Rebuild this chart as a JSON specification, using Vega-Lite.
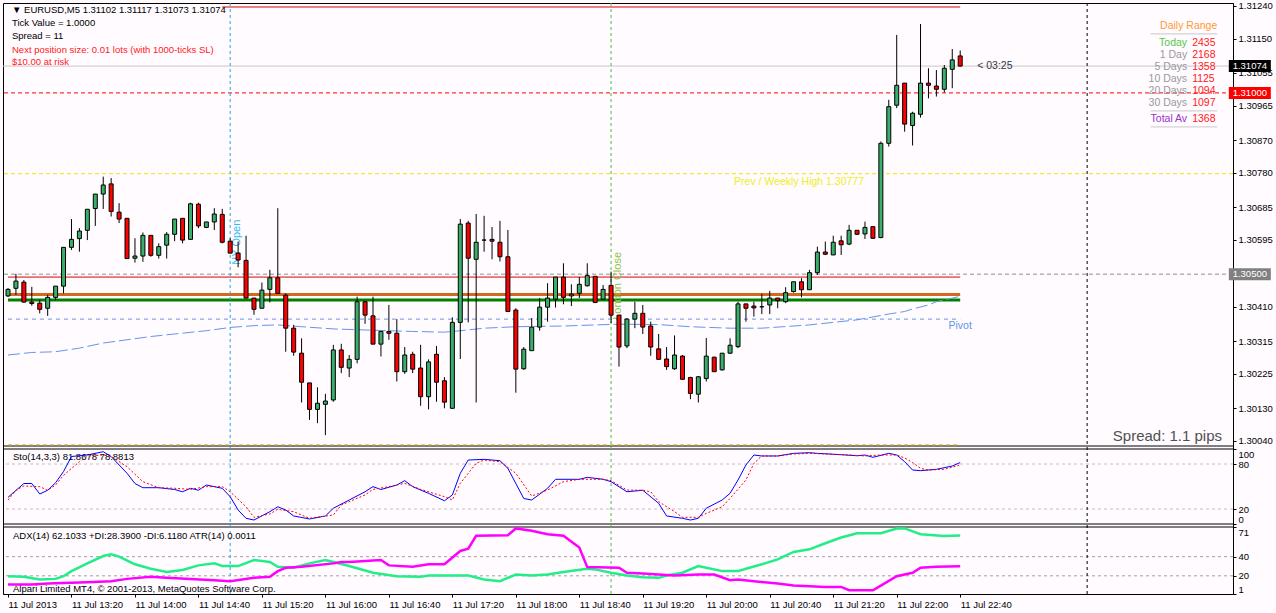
{
"$schema":"https://vega.github.io/schema/vega-lite/v6.json",
"background":"#FFFBFF",
"autosize":{"type":"none"},
"padding":{"left":3,"top":3,"right":43,"bottom":19},
"width":1230,"height":591,
"config":{"view":{"stroke":"#000000","strokeWidth":1},"axis":{"grid":false,"domainColor":"#000000","tickColor":"#000000","labelColor":"#000000","labelFont":"Liberation Sans","labelFontSize":9.5,"tickSize":3,"labelPadding":2},"text":{"font":"Liberation Sans"}},
"resolve":{"scale":{"y":"independent"},"axis":{"y":"independent"}},
"datasets":{
"c":[
{"t":"2013-07-11T12:40Z","o":1.3044,"h":1.30462,"l":1.30437,"c":1.30458},
{"t":"2013-07-11T12:45Z","o":1.30461,"h":1.30501,"l":1.30443,"c":1.30481},
{"t":"2013-07-11T12:50Z","o":1.30478,"h":1.30484,"l":1.30422,"c":1.30423},
{"t":"2013-07-11T12:55Z","o":1.30423,"h":1.30465,"l":1.30413,"c":1.30419},
{"t":"2013-07-11T13:00Z","o":1.3042,"h":1.30429,"l":1.30392,"c":1.30403},
{"t":"2013-07-11T13:05Z","o":1.30406,"h":1.30443,"l":1.30385,"c":1.30436},
{"t":"2013-07-11T13:10Z","o":1.30436,"h":1.30467,"l":1.30429,"c":1.30467},
{"t":"2013-07-11T13:15Z","o":1.30467,"h":1.30575,"l":1.30447,"c":1.30574},
{"t":"2013-07-11T13:20Z","o":1.30574,"h":1.30652,"l":1.30567,"c":1.30596},
{"t":"2013-07-11T13:25Z","o":1.30598,"h":1.30627,"l":1.30562,"c":1.30619},
{"t":"2013-07-11T13:30Z","o":1.30621,"h":1.30679,"l":1.30594,"c":1.30679},
{"t":"2013-07-11T13:35Z","o":1.30681,"h":1.30721,"l":1.30633,"c":1.30721},
{"t":"2013-07-11T13:40Z","o":1.30721,"h":1.30769,"l":1.3068,"c":1.30746},
{"t":"2013-07-11T13:45Z","o":1.30749,"h":1.30765,"l":1.30659,"c":1.30673},
{"t":"2013-07-11T13:50Z","o":1.30671,"h":1.30696,"l":1.30641,"c":1.30652},
{"t":"2013-07-11T13:55Z","o":1.30654,"h":1.30655,"l":1.30542,"c":1.30543},
{"t":"2013-07-11T14:00Z","o":1.30544,"h":1.30599,"l":1.30532,"c":1.3055},
{"t":"2013-07-11T14:05Z","o":1.3055,"h":1.30615,"l":1.30534,"c":1.30607},
{"t":"2013-07-11T14:10Z","o":1.30607,"h":1.30608,"l":1.30548,"c":1.30552},
{"t":"2013-07-11T14:15Z","o":1.30552,"h":1.30585,"l":1.30543,"c":1.30576},
{"t":"2013-07-11T14:20Z","o":1.3058,"h":1.30616,"l":1.30543,"c":1.3061},
{"t":"2013-07-11T14:25Z","o":1.3061,"h":1.30652,"l":1.30591,"c":1.30652},
{"t":"2013-07-11T14:30Z","o":1.30654,"h":1.30655,"l":1.30585,"c":1.30594},
{"t":"2013-07-11T14:35Z","o":1.30596,"h":1.30697,"l":1.30595,"c":1.30694},
{"t":"2013-07-11T14:40Z","o":1.30693,"h":1.30697,"l":1.30627,"c":1.30633},
{"t":"2013-07-11T14:45Z","o":1.30629,"h":1.30644,"l":1.30627,"c":1.30644},
{"t":"2013-07-11T14:50Z","o":1.30644,"h":1.30682,"l":1.30622,"c":1.30666},
{"t":"2013-07-11T14:55Z","o":1.30665,"h":1.3068,"l":1.30585,"c":1.30588},
{"t":"2013-07-11T15:00Z","o":1.30591,"h":1.30599,"l":1.30558,"c":1.30558},
{"t":"2013-07-11T15:05Z","o":1.30558,"h":1.3059,"l":1.30519,"c":1.30539},
{"t":"2013-07-11T15:10Z","o":1.30538,"h":1.30606,"l":1.30434,"c":1.30434},
{"t":"2013-07-11T15:15Z","o":1.30434,"h":1.30434,"l":1.30388,"c":1.30403},
{"t":"2013-07-11T15:20Z","o":1.30406,"h":1.30477,"l":1.30406,"c":1.30456},
{"t":"2013-07-11T15:25Z","o":1.30458,"h":1.30512,"l":1.30422,"c":1.3049},
{"t":"2013-07-11T15:30Z","o":1.3049,"h":1.30682,"l":1.30447,"c":1.30447},
{"t":"2013-07-11T15:35Z","o":1.30442,"h":1.30447,"l":1.30286,"c":1.30351},
{"t":"2013-07-11T15:40Z","o":1.30351,"h":1.3036,"l":1.30275,"c":1.30285},
{"t":"2013-07-11T15:45Z","o":1.30282,"h":1.30323,"l":1.30146,"c":1.30202},
{"t":"2013-07-11T15:50Z","o":1.302,"h":1.302,"l":1.30098,"c":1.30127},
{"t":"2013-07-11T15:55Z","o":1.30127,"h":1.30188,"l":1.30089,"c":1.30144},
{"t":"2013-07-11T16:00Z","o":1.30141,"h":1.3017,"l":1.30056,"c":1.3015},
{"t":"2013-07-11T16:05Z","o":1.30153,"h":1.30305,"l":1.30148,"c":1.30291},
{"t":"2013-07-11T16:10Z","o":1.30291,"h":1.30308,"l":1.30227,"c":1.30243},
{"t":"2013-07-11T16:15Z","o":1.30241,"h":1.30277,"l":1.30216,"c":1.30265},
{"t":"2013-07-11T16:20Z","o":1.30265,"h":1.30438,"l":1.30254,"c":1.30424},
{"t":"2013-07-11T16:25Z","o":1.30424,"h":1.30425,"l":1.30363,"c":1.30387},
{"t":"2013-07-11T16:30Z","o":1.30385,"h":1.30438,"l":1.30307,"c":1.30307},
{"t":"2013-07-11T16:35Z","o":1.30307,"h":1.30342,"l":1.30273,"c":1.30342},
{"t":"2013-07-11T16:40Z","o":1.30342,"h":1.30415,"l":1.30319,"c":1.30337},
{"t":"2013-07-11T16:45Z","o":1.30337,"h":1.30376,"l":1.30204,"c":1.30231},
{"t":"2013-07-11T16:50Z","o":1.30231,"h":1.30299,"l":1.30225,"c":1.30277},
{"t":"2013-07-11T16:55Z","o":1.30279,"h":1.30286,"l":1.30227,"c":1.30238},
{"t":"2013-07-11T17:00Z","o":1.30241,"h":1.30305,"l":1.30137,"c":1.30162},
{"t":"2013-07-11T17:05Z","o":1.30162,"h":1.30265,"l":1.30127,"c":1.30258},
{"t":"2013-07-11T17:10Z","o":1.30279,"h":1.30302,"l":1.30148,"c":1.30202},
{"t":"2013-07-11T17:15Z","o":1.30206,"h":1.30216,"l":1.3013,"c":1.30147},
{"t":"2013-07-11T17:20Z","o":1.3013,"h":1.30381,"l":1.30128,"c":1.30367},
{"t":"2013-07-11T17:25Z","o":1.30367,"h":1.30652,"l":1.30266,"c":1.30638},
{"t":"2013-07-11T17:30Z","o":1.30641,"h":1.30647,"l":1.30367,"c":1.30544},
{"t":"2013-07-11T17:35Z","o":1.30541,"h":1.30666,"l":1.30146,"c":1.30588},
{"t":"2013-07-11T17:40Z","o":1.30594,"h":1.30661,"l":1.30562,"c":1.30594},
{"t":"2013-07-11T17:45Z","o":1.30596,"h":1.3063,"l":1.30541,"c":1.30591},
{"t":"2013-07-11T17:50Z","o":1.30588,"h":1.30647,"l":1.30535,"c":1.30548},
{"t":"2013-07-11T17:55Z","o":1.30548,"h":1.30622,"l":1.30397,"c":1.30397},
{"t":"2013-07-11T18:00Z","o":1.30401,"h":1.30406,"l":1.30173,"c":1.30238},
{"t":"2013-07-11T18:05Z","o":1.30239,"h":1.30299,"l":1.30236,"c":1.30293},
{"t":"2013-07-11T18:10Z","o":1.30289,"h":1.30379,"l":1.30289,"c":1.30354},
{"t":"2013-07-11T18:15Z","o":1.30354,"h":1.30434,"l":1.30344,"c":1.30409},
{"t":"2013-07-11T18:20Z","o":1.30409,"h":1.30475,"l":1.30369,"c":1.30434},
{"t":"2013-07-11T18:25Z","o":1.30431,"h":1.30492,"l":1.30408,"c":1.30492},
{"t":"2013-07-11T18:30Z","o":1.30492,"h":1.3053,"l":1.30417,"c":1.30436},
{"t":"2013-07-11T18:35Z","o":1.3044,"h":1.30472,"l":1.30412,"c":1.30445},
{"t":"2013-07-11T18:40Z","o":1.30447,"h":1.30492,"l":1.30434,"c":1.30472},
{"t":"2013-07-11T18:45Z","o":1.30468,"h":1.3053,"l":1.30466,"c":1.30496},
{"t":"2013-07-11T18:50Z","o":1.30494,"h":1.30495,"l":1.3042,"c":1.30422},
{"t":"2013-07-11T18:55Z","o":1.30431,"h":1.3047,"l":1.30431,"c":1.30458},
{"t":"2013-07-11T19:00Z","o":1.30469,"h":1.30507,"l":1.30365,"c":1.30387},
{"t":"2013-07-11T19:05Z","o":1.30387,"h":1.30387,"l":1.30245,"c":1.30299},
{"t":"2013-07-11T19:10Z","o":1.30302,"h":1.30379,"l":1.30296,"c":1.30376},
{"t":"2013-07-11T19:15Z","o":1.30376,"h":1.30424,"l":1.30351,"c":1.30392},
{"t":"2013-07-11T19:20Z","o":1.30392,"h":1.30415,"l":1.30335,"c":1.30354},
{"t":"2013-07-11T19:25Z","o":1.30357,"h":1.30369,"l":1.30275,"c":1.30299},
{"t":"2013-07-11T19:30Z","o":1.30294,"h":1.30335,"l":1.30265,"c":1.30265},
{"t":"2013-07-11T19:35Z","o":1.30266,"h":1.30299,"l":1.30236,"c":1.30245},
{"t":"2013-07-11T19:40Z","o":1.30239,"h":1.30331,"l":1.30236,"c":1.30277},
{"t":"2013-07-11T19:45Z","o":1.30274,"h":1.30277,"l":1.30208,"c":1.3021},
{"t":"2013-07-11T19:50Z","o":1.30215,"h":1.30217,"l":1.30155,"c":1.30171},
{"t":"2013-07-11T19:55Z","o":1.30169,"h":1.30219,"l":1.30146,"c":1.30217},
{"t":"2013-07-11T20:00Z","o":1.30212,"h":1.30324,"l":1.30204,"c":1.30274},
{"t":"2013-07-11T20:05Z","o":1.30271,"h":1.30272,"l":1.3023,"c":1.30231},
{"t":"2013-07-11T20:10Z","o":1.30236,"h":1.30282,"l":1.30234,"c":1.30282},
{"t":"2013-07-11T20:15Z","o":1.30282,"h":1.30323,"l":1.3028,"c":1.30304},
{"t":"2013-07-11T20:20Z","o":1.303,"h":1.30424,"l":1.30296,"c":1.30418},
{"t":"2013-07-11T20:25Z","o":1.30418,"h":1.30418,"l":1.30369,"c":1.30406},
{"t":"2013-07-11T20:30Z","o":1.30412,"h":1.30424,"l":1.30383,"c":1.30407},
{"t":"2013-07-11T20:35Z","o":1.3041,"h":1.30446,"l":1.3039,"c":1.3041},
{"t":"2013-07-11T20:40Z","o":1.30415,"h":1.30454,"l":1.3039,"c":1.30434},
{"t":"2013-07-11T20:45Z","o":1.30434,"h":1.30434,"l":1.30406,"c":1.30427},
{"t":"2013-07-11T20:50Z","o":1.30424,"h":1.30464,"l":1.3042,"c":1.30449},
{"t":"2013-07-11T20:55Z","o":1.30452,"h":1.30479,"l":1.30449,"c":1.30479},
{"t":"2013-07-11T21:00Z","o":1.30479,"h":1.30489,"l":1.30436,"c":1.30457},
{"t":"2013-07-11T21:05Z","o":1.30457,"h":1.30512,"l":1.30457,"c":1.30504},
{"t":"2013-07-11T21:10Z","o":1.30504,"h":1.30576,"l":1.30498,"c":1.30561},
{"t":"2013-07-11T21:15Z","o":1.30561,"h":1.3059,"l":1.30553,"c":1.30555},
{"t":"2013-07-11T21:20Z","o":1.30553,"h":1.30606,"l":1.30553,"c":1.30588},
{"t":"2013-07-11T21:25Z","o":1.30592,"h":1.30606,"l":1.30553,"c":1.30581},
{"t":"2013-07-11T21:30Z","o":1.30583,"h":1.30636,"l":1.3058,"c":1.30621},
{"t":"2013-07-11T21:35Z","o":1.30621,"h":1.30621,"l":1.30608,"c":1.3061},
{"t":"2013-07-11T21:40Z","o":1.30611,"h":1.30645,"l":1.30597,"c":1.30629},
{"t":"2013-07-11T21:45Z","o":1.30631,"h":1.30631,"l":1.30597,"c":1.30599},
{"t":"2013-07-11T21:50Z","o":1.30601,"h":1.30866,"l":1.30599,"c":1.30861},
{"t":"2013-07-11T21:55Z","o":1.30861,"h":1.30981,"l":1.30852,"c":1.30962},
{"t":"2013-07-11T22:00Z","o":1.30966,"h":1.3116,"l":1.30958,"c":1.31021},
{"t":"2013-07-11T22:05Z","o":1.31027,"h":1.31027,"l":1.30893,"c":1.30914},
{"t":"2013-07-11T22:10Z","o":1.3091,"h":1.30948,"l":1.30855,"c":1.30944},
{"t":"2013-07-11T22:15Z","o":1.30941,"h":1.3119,"l":1.30932,"c":1.31027},
{"t":"2013-07-11T22:20Z","o":1.31027,"h":1.31068,"l":1.30985,"c":1.31021},
{"t":"2013-07-11T22:25Z","o":1.31019,"h":1.31063,"l":1.3099,"c":1.3101},
{"t":"2013-07-11T22:30Z","o":1.3101,"h":1.31077,"l":1.31001,"c":1.31068},
{"t":"2013-07-11T22:35Z","o":1.31065,"h":1.31121,"l":1.31013,"c":1.31091},
{"t":"2013-07-11T22:40Z","o":1.31102,"h":1.31117,"l":1.31073,"c":1.31074}
],
"ma":[
{"t":"2013-07-11T12:40Z","p":1.30277},{"t":"2013-07-11T12:55Z","p":1.30284},{"t":"2013-07-11T13:10Z","p":1.30286},{"t":"2013-07-11T13:25Z","p":1.30296},{"t":"2013-07-11T13:40Z","p":1.3031},{"t":"2013-07-11T13:55Z","p":1.30319},{"t":"2013-07-11T14:10Z","p":1.30328},{"t":"2013-07-11T14:25Z","p":1.30335},{"t":"2013-07-11T14:45Z","p":1.30344},{"t":"2013-07-11T15:00Z","p":1.30353},{"t":"2013-07-11T15:15Z","p":1.30358},{"t":"2013-07-11T15:30Z","p":1.3036},{"t":"2013-07-11T15:45Z","p":1.30355},{"t":"2013-07-11T16:05Z","p":1.30349},{"t":"2013-07-11T16:25Z","p":1.30346},{"t":"2013-07-11T16:55Z","p":1.30342},{"t":"2013-07-11T17:15Z","p":1.3034},{"t":"2013-07-11T17:25Z","p":1.30344},{"t":"2013-07-11T17:40Z","p":1.30351},{"t":"2013-07-11T18:00Z","p":1.30355},{"t":"2013-07-11T18:30Z","p":1.30357},{"t":"2013-07-11T18:50Z","p":1.3036},{"t":"2013-07-11T19:05Z","p":1.30362},{"t":"2013-07-11T19:30Z","p":1.30361},{"t":"2013-07-11T19:50Z","p":1.30355},{"t":"2013-07-11T20:15Z","p":1.30351},{"t":"2013-07-11T20:35Z","p":1.30351},{"t":"2013-07-11T21:05Z","p":1.3036},{"t":"2013-07-11T21:35Z","p":1.30374},{"t":"2013-07-11T21:55Z","p":1.3039},{"t":"2013-07-11T22:05Z","p":1.30397},{"t":"2013-07-11T22:10Z","p":1.30404},{"t":"2013-07-11T22:20Z","p":1.30415},{"t":"2013-07-11T22:25Z","p":1.30424},{"t":"2013-07-11T22:35Z","p":1.30434},{"t":"2013-07-11T22:40Z","p":1.30439}
],
"k":[
{"t":"2013-07-11T12:40Z","v":35.6},{"t":"2013-07-11T12:50Z","v":54},{"t":"2013-07-11T12:55Z","v":54},{"t":"2013-07-11T13:00Z","v":40},{"t":"2013-07-11T13:05Z","v":45},{"t":"2013-07-11T13:10Z","v":55},{"t":"2013-07-11T13:15Z","v":70},{"t":"2013-07-11T13:20Z","v":90},{"t":"2013-07-11T13:30Z","v":92},{"t":"2013-07-11T13:40Z","v":96.4},{"t":"2013-07-11T13:45Z","v":90},{"t":"2013-07-11T13:55Z","v":67.6},{"t":"2013-07-11T14:00Z","v":54},{"t":"2013-07-11T14:05Z","v":48.4},{"t":"2013-07-11T14:15Z","v":48.4},{"t":"2013-07-11T14:25Z","v":46},{"t":"2013-07-11T14:30Z","v":43},{"t":"2013-07-11T14:35Z","v":47.6},{"t":"2013-07-11T14:40Z","v":45},{"t":"2013-07-11T14:45Z","v":52},{"t":"2013-07-11T14:55Z","v":47.6},{"t":"2013-07-11T15:00Z","v":36.4},{"t":"2013-07-11T15:05Z","v":18.7},{"t":"2013-07-11T15:10Z","v":7.6},{"t":"2013-07-11T15:15Z","v":5.3},{"t":"2013-07-11T15:25Z","v":16.4},{"t":"2013-07-11T15:30Z","v":23},{"t":"2013-07-11T15:35Z","v":18.7},{"t":"2013-07-11T15:40Z","v":10.7},{"t":"2013-07-11T15:50Z","v":6.7},{"t":"2013-07-11T16:00Z","v":10.7},{"t":"2013-07-11T16:05Z","v":21},{"t":"2013-07-11T16:15Z","v":32},{"t":"2013-07-11T16:25Z","v":43},{"t":"2013-07-11T16:30Z","v":49.8},{"t":"2013-07-11T16:35Z","v":46},{"t":"2013-07-11T16:45Z","v":52},{"t":"2013-07-11T16:50Z","v":57.8},{"t":"2013-07-11T16:55Z","v":49.8},{"t":"2013-07-11T17:05Z","v":40.9},{"t":"2013-07-11T17:15Z","v":31},{"t":"2013-07-11T17:20Z","v":38.7},{"t":"2013-07-11T17:25Z","v":67.6},{"t":"2013-07-11T17:30Z","v":85.3},{"t":"2013-07-11T17:40Z","v":86.2},{"t":"2013-07-11T17:50Z","v":84.4},{"t":"2013-07-11T17:55Z","v":74.2},{"t":"2013-07-11T18:00Z","v":54},{"t":"2013-07-11T18:05Z","v":34},{"t":"2013-07-11T18:10Z","v":32},{"t":"2013-07-11T18:20Z","v":47.6},{"t":"2013-07-11T18:25Z","v":59.6},{"t":"2013-07-11T18:40Z","v":59.6},{"t":"2013-07-11T18:45Z","v":62.2},{"t":"2013-07-11T18:55Z","v":59.6},{"t":"2013-07-11T19:00Z","v":56.4},{"t":"2013-07-11T19:10Z","v":43},{"t":"2013-07-11T19:20Z","v":45},{"t":"2013-07-11T19:30Z","v":27.6},{"t":"2013-07-11T19:35Z","v":10.7},{"t":"2013-07-11T19:45Z","v":7.6},{"t":"2013-07-11T19:50Z","v":5.3},{"t":"2013-07-11T19:55Z","v":7.6},{"t":"2013-07-11T20:00Z","v":21},{"t":"2013-07-11T20:10Z","v":32},{"t":"2013-07-11T20:15Z","v":40.9},{"t":"2013-07-11T20:20Z","v":58.7},{"t":"2013-07-11T20:25Z","v":78.7},{"t":"2013-07-11T20:30Z","v":92},{"t":"2013-07-11T20:35Z","v":90.7},{"t":"2013-07-11T20:45Z","v":90.7},{"t":"2013-07-11T20:55Z","v":94.2},{"t":"2013-07-11T21:05Z","v":95.1},{"t":"2013-07-11T21:10Z","v":94.2},{"t":"2013-07-11T21:25Z","v":92.4},{"t":"2013-07-11T21:35Z","v":91},{"t":"2013-07-11T21:40Z","v":92},{"t":"2013-07-11T21:45Z","v":88.9},{"t":"2013-07-11T21:55Z","v":94.2},{"t":"2013-07-11T22:00Z","v":92},{"t":"2013-07-11T22:05Z","v":83.1},{"t":"2013-07-11T22:10Z","v":72},{"t":"2013-07-11T22:15Z","v":71.1},{"t":"2013-07-11T22:25Z","v":72.9},{"t":"2013-07-11T22:35Z","v":77.3},{"t":"2013-07-11T22:40Z","v":81.9}
],
"d":[
{"t":"2013-07-11T12:40Z","v":32},{"t":"2013-07-11T12:45Z","v":45},{"t":"2013-07-11T12:50Z","v":50.7},{"t":"2013-07-11T13:00Z","v":49.8},{"t":"2013-07-11T13:05Z","v":45},{"t":"2013-07-11T13:10Z","v":52},{"t":"2013-07-11T13:15Z","v":65},{"t":"2013-07-11T13:25Z","v":83},{"t":"2013-07-11T13:30Z","v":90.7},{"t":"2013-07-11T13:40Z","v":92},{"t":"2013-07-11T13:45Z","v":90},{"t":"2013-07-11T13:55Z","v":76.4},{"t":"2013-07-11T14:05Z","v":56.4},{"t":"2013-07-11T14:15Z","v":48.4},{"t":"2013-07-11T14:25Z","v":47.6},{"t":"2013-07-11T14:35Z","v":46.2},{"t":"2013-07-11T14:45Z","v":49.8},{"t":"2013-07-11T14:55Z","v":49.8},{"t":"2013-07-11T15:00Z","v":43},{"t":"2013-07-11T15:10Z","v":23},{"t":"2013-07-11T15:15Z","v":8.9},{"t":"2013-07-11T15:25Z","v":13.3},{"t":"2013-07-11T15:30Z","v":19.6},{"t":"2013-07-11T15:40Z","v":16.4},{"t":"2013-07-11T15:50Z","v":7.6},{"t":"2013-07-11T16:05Z","v":12},{"t":"2013-07-11T16:10Z","v":25.3},{"t":"2013-07-11T16:25Z","v":38.7},{"t":"2013-07-11T16:30Z","v":46.2},{"t":"2013-07-11T16:40Z","v":49.8},{"t":"2013-07-11T16:50Z","v":54.2},{"t":"2013-07-11T17:00Z","v":46.2},{"t":"2013-07-11T17:15Z","v":36.4},{"t":"2013-07-11T17:20Z","v":32},{"t":"2013-07-11T17:25Z","v":54.2},{"t":"2013-07-11T17:35Z","v":80.9},{"t":"2013-07-11T17:40Z","v":85.3},{"t":"2013-07-11T17:50Z","v":83},{"t":"2013-07-11T18:00Z","v":67.6},{"t":"2013-07-11T18:10Z","v":37.3},{"t":"2013-07-11T18:20Z","v":45.3},{"t":"2013-07-11T18:30Z","v":56.4},{"t":"2013-07-11T18:40Z","v":59.6},{"t":"2013-07-11T18:55Z","v":59.6},{"t":"2013-07-11T19:00Z","v":57.8},{"t":"2013-07-11T19:10Z","v":45.3},{"t":"2013-07-11T19:20Z","v":45},{"t":"2013-07-11T19:25Z","v":43},{"t":"2013-07-11T19:30Z","v":29.8},{"t":"2013-07-11T19:40Z","v":16.4},{"t":"2013-07-11T19:45Z","v":8.9},{"t":"2013-07-11T19:55Z","v":8.9},{"t":"2013-07-11T20:00Z","v":14.2},{"t":"2013-07-11T20:10Z","v":23},{"t":"2013-07-11T20:15Z","v":34.2},{"t":"2013-07-11T20:25Z","v":58.7},{"t":"2013-07-11T20:30Z","v":80.9},{"t":"2013-07-11T20:35Z","v":90.7},{"t":"2013-07-11T20:45Z","v":90.7},{"t":"2013-07-11T20:55Z","v":93.3},{"t":"2013-07-11T21:05Z","v":94.2},{"t":"2013-07-11T21:15Z","v":93.3},{"t":"2013-07-11T21:30Z","v":92},{"t":"2013-07-11T21:40Z","v":90.7},{"t":"2013-07-11T21:50Z","v":92},{"t":"2013-07-11T22:00Z","v":92},{"t":"2013-07-11T22:05Z","v":88},{"t":"2013-07-11T22:10Z","v":82},{"t":"2013-07-11T22:15Z","v":74.2},{"t":"2013-07-11T22:20Z","v":72},{"t":"2013-07-11T22:30Z","v":72.9},{"t":"2013-07-11T22:35Z","v":75.6},{"t":"2013-07-11T22:40Z","v":78.9}
],
"adx":[
{"t":"2013-07-11T12:40Z","v":19.6},{"t":"2013-07-11T12:50Z","v":18.9},{"t":"2013-07-11T13:00Z","v":16.1},{"t":"2013-07-11T13:10Z","v":16.8},{"t":"2013-07-11T13:15Z","v":19.6},{"t":"2013-07-11T13:20Z","v":24.9},{"t":"2013-07-11T13:30Z","v":33},{"t":"2013-07-11T13:40Z","v":40.7},{"t":"2013-07-11T13:45Z","v":42.5},{"t":"2013-07-11T13:50Z","v":40},{"t":"2013-07-11T14:00Z","v":32},{"t":"2013-07-11T14:10Z","v":27.4},{"t":"2013-07-11T14:20Z","v":23.9},{"t":"2013-07-11T14:30Z","v":26},{"t":"2013-07-11T14:40Z","v":30.9},{"t":"2013-07-11T14:50Z","v":33},{"t":"2013-07-11T14:55Z","v":30.2},{"t":"2013-07-11T15:05Z","v":30.2},{"t":"2013-07-11T15:15Z","v":36.5},{"t":"2013-07-11T15:25Z","v":34.4},{"t":"2013-07-11T15:30Z","v":29.5},{"t":"2013-07-11T15:40Z","v":28.4},{"t":"2013-07-11T15:50Z","v":33},{"t":"2013-07-11T16:00Z","v":36.5},{"t":"2013-07-11T16:05Z","v":34.4},{"t":"2013-07-11T16:15Z","v":30.2},{"t":"2013-07-11T16:30Z","v":23.2},{"t":"2013-07-11T16:45Z","v":19.6},{"t":"2013-07-11T17:00Z","v":18.9},{"t":"2013-07-11T17:05Z","v":20.4},{"t":"2013-07-11T17:30Z","v":20.4},{"t":"2013-07-11T17:40Z","v":16.1},{"t":"2013-07-11T17:50Z","v":14.4},{"t":"2013-07-11T18:00Z","v":21.4},{"t":"2013-07-11T18:10Z","v":20.4},{"t":"2013-07-11T18:20Z","v":21.4},{"t":"2013-07-11T18:30Z","v":23.9},{"t":"2013-07-11T18:45Z","v":27.4},{"t":"2013-07-11T18:50Z","v":26.7},{"t":"2013-07-11T19:00Z","v":23.2},{"t":"2013-07-11T19:10Z","v":20.4},{"t":"2013-07-11T19:20Z","v":18.4},{"t":"2013-07-11T19:30Z","v":17.9},{"t":"2013-07-11T19:35Z","v":20.4},{"t":"2013-07-11T19:45Z","v":23.2},{"t":"2013-07-11T19:55Z","v":30.2},{"t":"2013-07-11T20:00Z","v":28.4},{"t":"2013-07-11T20:10Z","v":24.9},{"t":"2013-07-11T20:20Z","v":24.9},{"t":"2013-07-11T20:25Z","v":27.4},{"t":"2013-07-11T20:35Z","v":32},{"t":"2013-07-11T20:45Z","v":37.2},{"t":"2013-07-11T20:55Z","v":44.9},{"t":"2013-07-11T21:05Z","v":47.7},{"t":"2013-07-11T21:15Z","v":54},{"t":"2013-07-11T21:25Z","v":60},{"t":"2013-07-11T21:35Z","v":64.5},{"t":"2013-07-11T21:50Z","v":64.5},{"t":"2013-07-11T22:00Z","v":69.5},{"t":"2013-07-11T22:05Z","v":69.5},{"t":"2013-07-11T22:15Z","v":63.5},{"t":"2013-07-11T22:30Z","v":61.7},{"t":"2013-07-11T22:40Z","v":62.1}
],
"pdi":[
{"t":"2013-07-11T12:40Z","v":10.8},{"t":"2013-07-11T12:55Z","v":10.8},{"t":"2013-07-11T13:05Z","v":11.9},{"t":"2013-07-11T13:15Z","v":12.6},{"t":"2013-07-11T13:30Z","v":13.3},{"t":"2013-07-11T13:45Z","v":14.4},{"t":"2013-07-11T13:55Z","v":16.8},{"t":"2013-07-11T14:10Z","v":18.9},{"t":"2013-07-11T14:20Z","v":17.9},{"t":"2013-07-11T14:35Z","v":16.8},{"t":"2013-07-11T14:50Z","v":15.4},{"t":"2013-07-11T15:00Z","v":14.4},{"t":"2013-07-11T15:15Z","v":17.9},{"t":"2013-07-11T15:25Z","v":18.9},{"t":"2013-07-11T15:30Z","v":24.9},{"t":"2013-07-11T15:35Z","v":28.4},{"t":"2013-07-11T15:45Z","v":29.5},{"t":"2013-07-11T16:05Z","v":33},{"t":"2013-07-11T16:10Z","v":34.4},{"t":"2013-07-11T16:15Z","v":34.4},{"t":"2013-07-11T16:35Z","v":36.5},{"t":"2013-07-11T16:40Z","v":30.9},{"t":"2013-07-11T16:55Z","v":29.5},{"t":"2013-07-11T17:05Z","v":32},{"t":"2013-07-11T17:15Z","v":32},{"t":"2013-07-11T17:25Z","v":46},{"t":"2013-07-11T17:30Z","v":48.4},{"t":"2013-07-11T17:35Z","v":61.8},{"t":"2013-07-11T17:55Z","v":62.5},{"t":"2013-07-11T18:00Z","v":69.5},{"t":"2013-07-11T18:10Z","v":67},{"t":"2013-07-11T18:20Z","v":63.5},{"t":"2013-07-11T18:30Z","v":61.8},{"t":"2013-07-11T18:40Z","v":49.5},{"t":"2013-07-11T18:45Z","v":29.1},{"t":"2013-07-11T19:05Z","v":28.4},{"t":"2013-07-11T19:10Z","v":23.2},{"t":"2013-07-11T19:20Z","v":22.5},{"t":"2013-07-11T19:30Z","v":21.4},{"t":"2013-07-11T19:40Z","v":20.4},{"t":"2013-07-11T19:55Z","v":21.4},{"t":"2013-07-11T20:05Z","v":21.4},{"t":"2013-07-11T20:15Z","v":15.4},{"t":"2013-07-11T20:20Z","v":16.1},{"t":"2013-07-11T20:30Z","v":14.4},{"t":"2013-07-11T20:45Z","v":11.9},{"t":"2013-07-11T20:55Z","v":9.8},{"t":"2013-07-11T21:15Z","v":8.4},{"t":"2013-07-11T21:25Z","v":8.4},{"t":"2013-07-11T21:30Z","v":4.9},{"t":"2013-07-11T21:45Z","v":4.9},{"t":"2013-07-11T21:50Z","v":9.8},{"t":"2013-07-11T22:00Z","v":19.6},{"t":"2013-07-11T22:10Z","v":23.2},{"t":"2013-07-11T22:15Z","v":28.4},{"t":"2013-07-11T22:25Z","v":29.5},{"t":"2013-07-11T22:40Z","v":30}
]
},
"layer":[
{"data":{"values":[{"p":1.31074}]},"mark":{"type":"rule","color":"#C8C8C8"},"encoding":{"y":{"field":"p","type":"quantitative","scale":{"domain":[1.30026,1.31248],"range":[443,0],"zero":false,"nice":false},"axis":null}}},
{"data":{"values":[{"p":1.31}]},"mark":{"type":"rule","color":"#FF0000","strokeDash":[4,3]},"encoding":{"y":{"field":"p","type":"quantitative","scale":{"domain":[1.30026,1.31248],"range":[443,0],"zero":false,"nice":false},"axis":null}}},
{"data":{"values":[{"p":1.30777}]},"mark":{"type":"rule","color":"#E8E800","strokeDash":[4,3]},"encoding":{"y":{"field":"p","type":"quantitative","scale":{"domain":[1.30026,1.31248],"range":[443,0],"zero":false,"nice":false},"axis":null}}},
{"data":{"values":[{"p":1.305}]},"mark":{"type":"rule","color":"#909090","strokeDash":[4,3]},"encoding":{"y":{"field":"p","type":"quantitative","scale":{"domain":[1.30026,1.31248],"range":[443,0],"zero":false,"nice":false},"axis":null}}},
{"data":{"values":[{"p":1.30026}]},"mark":{"type":"rule","color":"#000000"},"encoding":{"y":{"field":"p","type":"quantitative","scale":{"domain":[1.30026,1.31248],"range":[443,0],"zero":false,"nice":false},"axis":null}}},
{"data":{"values":[{"v":100},{"v":0}]},"mark":{"type":"rule","color":"#000000"},"encoding":{"y":{"field":"v","type":"quantitative","scale":{"domain":[0,100],"range":[521,446],"zero":false,"nice":false},"axis":null}}},
{"data":{"values":[{"v":80},{"v":20}]},"mark":{"type":"rule","color":"#C0C0C0","strokeDash":[3,3]},"encoding":{"y":{"field":"v","type":"quantitative","scale":{"domain":[0,100],"range":[521,446],"zero":false,"nice":false},"axis":null}}},
{"data":{"values":[{"v":71}]},"mark":{"type":"rule","color":"#000000"},"encoding":{"y":{"field":"v","type":"quantitative","scale":{"domain":[1,71],"range":[591,524],"zero":false,"nice":false},"axis":null}}},
{"data":{"values":[{"v":40},{"v":20}]},"mark":{"type":"rule","color":"#A0A0A0","strokeDash":[3,3]},"encoding":{"y":{"field":"v","type":"quantitative","scale":{"domain":[1,71],"range":[591,524],"zero":false,"nice":false},"axis":null}}},
{"data":{"values":[{"t1":"2013-07-11T14:55Z","t2":"2013-07-11T22:40Z","p":1.31237},{"t1":"2013-07-11T12:40Z","t2":"2013-07-11T22:40Z","p":1.30492}]},"mark":{"type":"rule","color":"#E00000"},"encoding":{"x":{"field":"t1","type":"temporal","title":null,"scale":{"type":"utc","domain":[{"year":2013,"month":7,"date":11,"hours":12,"minutes":40,"utc":true},{"year":2013,"month":7,"date":12,"hours":1,"minutes":28,"seconds":45,"utc":true}]}},"x2":{"field":"t2"},"y":{"field":"p","type":"quantitative","scale":{"domain":[1.30026,1.31248],"range":[443,0],"zero":false,"nice":false},"axis":null}}},
{"data":{"values":[{"t1":"2013-07-11T12:40Z","t2":"2013-07-11T22:40Z","p":1.30444}]},"mark":{"type":"rule","color":"#D2691E","strokeWidth":3},"encoding":{"x":{"field":"t1","type":"temporal","title":null,"scale":{"type":"utc","domain":[{"year":2013,"month":7,"date":11,"hours":12,"minutes":40,"utc":true},{"year":2013,"month":7,"date":12,"hours":1,"minutes":28,"seconds":45,"utc":true}]}},"x2":{"field":"t2"},"y":{"field":"p","type":"quantitative","scale":{"domain":[1.30026,1.31248],"range":[443,0],"zero":false,"nice":false},"axis":null}}},
{"data":{"values":[{"t1":"2013-07-11T12:40Z","t2":"2013-07-11T22:40Z","p":1.30429}]},"mark":{"type":"rule","color":"#008000","strokeWidth":3},"encoding":{"x":{"field":"t1","type":"temporal","title":null,"scale":{"type":"utc","domain":[{"year":2013,"month":7,"date":11,"hours":12,"minutes":40,"utc":true},{"year":2013,"month":7,"date":12,"hours":1,"minutes":28,"seconds":45,"utc":true}]}},"x2":{"field":"t2"},"y":{"field":"p","type":"quantitative","scale":{"domain":[1.30026,1.31248],"range":[443,0],"zero":false,"nice":false},"axis":null}}},
{"data":{"values":[{"t1":"2013-07-11T12:40Z","t2":"2013-07-11T22:40Z","p":1.30376}]},"mark":{"type":"rule","color":"#6495ED","strokeDash":[4,4]},"encoding":{"x":{"field":"t1","type":"temporal","title":null,"scale":{"type":"utc","domain":[{"year":2013,"month":7,"date":11,"hours":12,"minutes":40,"utc":true},{"year":2013,"month":7,"date":12,"hours":1,"minutes":28,"seconds":45,"utc":true}]}},"x2":{"field":"t2"},"y":{"field":"p","type":"quantitative","scale":{"domain":[1.30026,1.31248],"range":[443,0],"zero":false,"nice":false},"axis":null}}},
{"data":{"values":[{"t1":"2013-07-11T12:40Z","t2":"2013-07-11T22:40Z","p":1.30029}]},"mark":{"type":"rule","color":"#D4B000","strokeDash":[4,3]},"encoding":{"x":{"field":"t1","type":"temporal","title":null,"scale":{"type":"utc","domain":[{"year":2013,"month":7,"date":11,"hours":12,"minutes":40,"utc":true},{"year":2013,"month":7,"date":12,"hours":1,"minutes":28,"seconds":45,"utc":true}]}},"x2":{"field":"t2"},"y":{"field":"p","type":"quantitative","scale":{"domain":[1.30026,1.31248],"range":[443,0],"zero":false,"nice":false},"axis":null}}},
{"data":{"name":"ma"},"mark":{"type":"line","color":"#6495ED","strokeWidth":1,"strokeDash":[12,4]},"encoding":{"x":{"field":"t","type":"temporal","title":null,"scale":{"type":"utc","domain":[{"year":2013,"month":7,"date":11,"hours":12,"minutes":40,"utc":true},{"year":2013,"month":7,"date":12,"hours":1,"minutes":28,"seconds":45,"utc":true}]}},"y":{"field":"p","type":"quantitative","scale":{"domain":[1.30026,1.31248],"range":[443,0],"zero":false,"nice":false},"axis":null}}},
{"data":{"values":[{"t":"2013-07-11T15:00Z"}]},"mark":{"type":"rule","color":"#1EA7E1","strokeDash":[3,3]},"encoding":{"x":{"field":"t","type":"temporal","title":null,"scale":{"type":"utc","domain":[{"year":2013,"month":7,"date":11,"hours":12,"minutes":40,"utc":true},{"year":2013,"month":7,"date":12,"hours":1,"minutes":28,"seconds":45,"utc":true}]}}}},
{"data":{"values":[{"t":"2013-07-11T19:00Z"}]},"mark":{"type":"rule","color":"#3DC43D","strokeDash":[3,3]},"encoding":{"x":{"field":"t","type":"temporal","title":null,"scale":{"type":"utc","domain":[{"year":2013,"month":7,"date":11,"hours":12,"minutes":40,"utc":true},{"year":2013,"month":7,"date":12,"hours":1,"minutes":28,"seconds":45,"utc":true}]}}}},
{"data":{"values":[{"t":"2013-07-12T00:00Z"}]},"mark":{"type":"rule","color":"#000000","strokeDash":[3,3]},"encoding":{"x":{"field":"t","type":"temporal","title":null,"scale":{"type":"utc","domain":[{"year":2013,"month":7,"date":11,"hours":12,"minutes":40,"utc":true},{"year":2013,"month":7,"date":12,"hours":1,"minutes":28,"seconds":45,"utc":true}]}}}},
{"data":{"values":[{"t":"2013-07-11T12:40Z","p":1.31229,"s":"▼ EURUSD,M5  1.31102 1.31117 1.31073 1.31074"},{"t":"2013-07-11T12:40Z","p":1.31193,"s":"Tick Value = 1.0000"},{"t":"2013-07-11T12:40Z","p":1.31157,"s":"Spread = 11"}]},"mark":{"type":"text","align":"left","baseline":"middle","dx":4,"fontSize":9.5,"color":"#000000"},"encoding":{"x":{"field":"t","type":"temporal","title":null,"scale":{"type":"utc","domain":[{"year":2013,"month":7,"date":11,"hours":12,"minutes":40,"utc":true},{"year":2013,"month":7,"date":12,"hours":1,"minutes":28,"seconds":45,"utc":true}]}},"y":{"field":"p","type":"quantitative","scale":{"domain":[1.30026,1.31248],"range":[443,0],"zero":false,"nice":false},"axis":null},"text":{"field":"s"}}},
{"data":{"values":[{"t":"2013-07-11T12:40Z","p":1.31119,"s":"Next position size: 0.01 lots (with 1000-ticks SL)"},{"t":"2013-07-11T12:40Z","p":1.31085,"s":"$10.00 at risk"}]},"mark":{"type":"text","align":"left","baseline":"middle","dx":4,"fontSize":9.5,"color":"#FF2020"},"encoding":{"x":{"field":"t","type":"temporal","title":null,"scale":{"type":"utc","domain":[{"year":2013,"month":7,"date":11,"hours":12,"minutes":40,"utc":true},{"year":2013,"month":7,"date":12,"hours":1,"minutes":28,"seconds":45,"utc":true}]}},"y":{"field":"p","type":"quantitative","scale":{"domain":[1.30026,1.31248],"range":[443,0],"zero":false,"nice":false},"axis":null},"text":{"field":"s"}}},
{"data":{"values":[{"t":"2013-07-11T15:00Z","p":1.30526,"s":"NY Open"}]},"mark":{"type":"text","align":"left","baseline":"middle","angle":270,"dy":7,"fontSize":11,"color":"#33BBEE"},"encoding":{"x":{"field":"t","type":"temporal","title":null,"scale":{"type":"utc","domain":[{"year":2013,"month":7,"date":11,"hours":12,"minutes":40,"utc":true},{"year":2013,"month":7,"date":12,"hours":1,"minutes":28,"seconds":45,"utc":true}]}},"y":{"field":"p","type":"quantitative","scale":{"domain":[1.30026,1.31248],"range":[443,0],"zero":false,"nice":false},"axis":null},"text":{"field":"s"}}},
{"data":{"values":[{"t":"2013-07-11T19:00Z","p":1.30374,"s":"London Close"}]},"mark":{"type":"text","align":"left","baseline":"middle","angle":270,"dy":7,"fontSize":11,"color":"#8CC63F"},"encoding":{"x":{"field":"t","type":"temporal","title":null,"scale":{"type":"utc","domain":[{"year":2013,"month":7,"date":11,"hours":12,"minutes":40,"utc":true},{"year":2013,"month":7,"date":12,"hours":1,"minutes":28,"seconds":45,"utc":true}]}},"y":{"field":"p","type":"quantitative","scale":{"domain":[1.30026,1.31248],"range":[443,0],"zero":false,"nice":false},"axis":null},"text":{"field":"s"}}},
{"data":{"values":[{"t":"2013-07-11T20:15Z","p":1.30777,"s":"Prev / Weekly High 1.30777"}]},"mark":{"type":"text","align":"left","baseline":"middle","dx":4,"dy":8,"fontSize":10.5,"color":"#EEEE22"},"encoding":{"x":{"field":"t","type":"temporal","title":null,"scale":{"type":"utc","domain":[{"year":2013,"month":7,"date":11,"hours":12,"minutes":40,"utc":true},{"year":2013,"month":7,"date":12,"hours":1,"minutes":28,"seconds":45,"utc":true}]}},"y":{"field":"p","type":"quantitative","scale":{"domain":[1.30026,1.31248],"range":[443,0],"zero":false,"nice":false},"axis":null},"text":{"field":"s"}}},
{"data":{"values":[{"t":"2013-07-11T22:40Z","p":1.30376,"s":"Pivot"}]},"mark":{"type":"text","align":"center","baseline":"middle","dy":7,"fontSize":10.5,"color":"#6495ED"},"encoding":{"x":{"field":"t","type":"temporal","title":null,"scale":{"type":"utc","domain":[{"year":2013,"month":7,"date":11,"hours":12,"minutes":40,"utc":true},{"year":2013,"month":7,"date":12,"hours":1,"minutes":28,"seconds":45,"utc":true}]}},"y":{"field":"p","type":"quantitative","scale":{"domain":[1.30026,1.31248],"range":[443,0],"zero":false,"nice":false},"axis":null},"text":{"field":"s"}}},
{"data":{"values":[{"t":"2013-07-11T22:40Z","p":1.31074,"s":"<  03:25"}]},"mark":{"type":"text","align":"left","baseline":"middle","dx":17,"fontSize":10.5,"color":"#333344"},"encoding":{"x":{"field":"t","type":"temporal","title":null,"scale":{"type":"utc","domain":[{"year":2013,"month":7,"date":11,"hours":12,"minutes":40,"utc":true},{"year":2013,"month":7,"date":12,"hours":1,"minutes":28,"seconds":45,"utc":true}]}},"y":{"field":"p","type":"quantitative","scale":{"domain":[1.30026,1.31248],"range":[443,0],"zero":false,"nice":false},"axis":null},"text":{"field":"s"}}},
{"data":{"values":[{"t1":"2013-07-12T00:40Z","t2":"2013-07-12T01:22Z","p":1.311628},{"t1":"2013-07-12T00:40Z","t2":"2013-07-12T01:22Z","p":1.309503},{"t1":"2013-07-12T00:40Z","t2":"2013-07-12T01:22Z","p":1.309062}]},"mark":{"type":"rule","color":"#C8C8C8"},"encoding":{"x":{"field":"t1","type":"temporal","title":null,"scale":{"type":"utc","domain":[{"year":2013,"month":7,"date":11,"hours":12,"minutes":40,"utc":true},{"year":2013,"month":7,"date":12,"hours":1,"minutes":28,"seconds":45,"utc":true}]}},"x2":{"field":"t2"},"y":{"field":"p","type":"quantitative","scale":{"domain":[1.30026,1.31248],"range":[443,0],"zero":false,"nice":false},"axis":null}}},
{"data":{"values":[{"t":"2013-07-12T01:22Z","p":1.311848,"s":"Daily Range"}]},"mark":{"type":"text","align":"right","baseline":"middle","fontSize":10.5,"color":"#FF9933"},"encoding":{"x":{"field":"t","type":"temporal","title":null,"scale":{"type":"utc","domain":[{"year":2013,"month":7,"date":11,"hours":12,"minutes":40,"utc":true},{"year":2013,"month":7,"date":12,"hours":1,"minutes":28,"seconds":45,"utc":true}]}},"y":{"field":"p","type":"quantitative","scale":{"domain":[1.30026,1.31248],"range":[443,0],"zero":false,"nice":false},"axis":null},"text":{"field":"s"}}},
{"data":{"values":[{"t":"2013-07-12T01:03Z","p":1.311379,"s":"Today"},{"t":"2013-07-12T01:03Z","p":1.311048,"s":"1 Day"},{"t":"2013-07-12T01:03Z","p":1.310717,"s":"5 Days"},{"t":"2013-07-12T01:03Z","p":1.310386,"s":"10 Days"},{"t":"2013-07-12T01:03Z","p":1.310055,"s":"20 Days"},{"t":"2013-07-12T01:03Z","p":1.309724,"s":"30 Days"},{"t":"2013-07-12T01:03Z","p":1.309283,"s":"Total Av"}]},"mark":{"type":"text","align":"right","baseline":"middle","fontSize":10.5},"encoding":{"x":{"field":"t","type":"temporal","title":null,"scale":{"type":"utc","domain":[{"year":2013,"month":7,"date":11,"hours":12,"minutes":40,"utc":true},{"year":2013,"month":7,"date":12,"hours":1,"minutes":28,"seconds":45,"utc":true}]}},"y":{"field":"p","type":"quantitative","scale":{"domain":[1.30026,1.31248],"range":[443,0],"zero":false,"nice":false},"axis":null},"text":{"field":"s"},"color":{"condition":[{"test":"datum.s=='Today'","value":"#55C84A"},{"test":"datum.s=='Total Av'","value":"#9933CC"}],"value":"#999999"}}},
{"data":{"values":[{"t":"2013-07-12T01:03Z","p":1.311379,"v":"2435"},{"t":"2013-07-12T01:03Z","p":1.311048,"v":"2168"},{"t":"2013-07-12T01:03Z","p":1.310717,"v":"1358"},{"t":"2013-07-12T01:03Z","p":1.310386,"v":"1125"},{"t":"2013-07-12T01:03Z","p":1.310055,"v":"1094"},{"t":"2013-07-12T01:03Z","p":1.309724,"v":"1097"},{"t":"2013-07-12T01:03Z","p":1.309283,"v":"1368"}]},"mark":{"type":"text","align":"left","baseline":"middle","dx":5,"fontSize":10.5,"color":"#FF2020"},"encoding":{"x":{"field":"t","type":"temporal","title":null,"scale":{"type":"utc","domain":[{"year":2013,"month":7,"date":11,"hours":12,"minutes":40,"utc":true},{"year":2013,"month":7,"date":12,"hours":1,"minutes":28,"seconds":45,"utc":true}]}},"y":{"field":"p","type":"quantitative","scale":{"domain":[1.30026,1.31248],"range":[443,0],"zero":false,"nice":false},"axis":null},"text":{"field":"v"}}},
{"data":{"values":[{"t":"2013-07-12T01:25Z","p":1.30054,"s":"Spread: 1.1 pips"}]},"mark":{"type":"text","align":"right","baseline":"middle","fontSize":15,"color":"#505050"},"encoding":{"x":{"field":"t","type":"temporal","title":null,"scale":{"type":"utc","domain":[{"year":2013,"month":7,"date":11,"hours":12,"minutes":40,"utc":true},{"year":2013,"month":7,"date":12,"hours":1,"minutes":28,"seconds":45,"utc":true}]}},"y":{"field":"p","type":"quantitative","scale":{"domain":[1.30026,1.31248],"range":[443,0],"zero":false,"nice":false},"axis":null},"text":{"field":"s"}}},
{"data":{"values":[{"t":"2013-07-11T12:40Z","v":89,"s":"Sto(14,3,3) 81.8678 78.8813"}]},"mark":{"type":"text","align":"left","baseline":"middle","dx":5,"fontSize":9.5,"color":"#000000"},"encoding":{"x":{"field":"t","type":"temporal","title":null,"scale":{"type":"utc","domain":[{"year":2013,"month":7,"date":11,"hours":12,"minutes":40,"utc":true},{"year":2013,"month":7,"date":12,"hours":1,"minutes":28,"seconds":45,"utc":true}]}},"y":{"field":"v","type":"quantitative","scale":{"domain":[0,100],"range":[521,446],"zero":false,"nice":false},"axis":null},"text":{"field":"s"}}},
{"data":{"values":[{"t":"2013-07-11T12:40Z","v":61.6,"s":"ADX(14) 62.1033 +DI:28.3900 -DI:6.1180  ATR(14) 0.0011"},{"t":"2013-07-11T12:40Z","v":6.2,"s":"Alpari Limited MT4, © 2001-2013, MetaQuotes Software Corp."}]},"mark":{"type":"text","align":"left","baseline":"middle","dx":5,"fontSize":9.5,"color":"#000000"},"encoding":{"x":{"field":"t","type":"temporal","title":null,"scale":{"type":"utc","domain":[{"year":2013,"month":7,"date":11,"hours":12,"minutes":40,"utc":true},{"year":2013,"month":7,"date":12,"hours":1,"minutes":28,"seconds":45,"utc":true}]}},"y":{"field":"v","type":"quantitative","scale":{"domain":[1,71],"range":[591,524],"zero":false,"nice":false},"axis":null},"text":{"field":"s"}}},
{"data":{"name":"c"},"mark":{"type":"rule","color":"#000000","strokeWidth":1,"clip":true},"encoding":{"x":{"field":"t","type":"temporal","title":null,"scale":{"type":"utc","domain":[{"year":2013,"month":7,"date":11,"hours":12,"minutes":40,"utc":true},{"year":2013,"month":7,"date":12,"hours":1,"minutes":28,"seconds":45,"utc":true}]}},"y":{"field":"l","type":"quantitative","scale":{"domain":[1.30026,1.31248],"range":[443,0],"zero":false,"nice":false},"axis":{"orient":"right","values":[1.3004,1.3013,1.30225,1.30315,1.3041,1.30595,1.30685,1.3078,1.3087,1.30965,1.31055,1.3115,1.3124],"format":".5f","title":null,"labelFlush":false}},"y2":{"field":"h"}}},
{"data":{"name":"c"},"mark":{"type":"bar","width":4,"stroke":"#000000","strokeWidth":1,"clip":true},"encoding":{"x":{"field":"t","type":"temporal","title":null,"scale":{"type":"utc","domain":[{"year":2013,"month":7,"date":11,"hours":12,"minutes":40,"utc":true},{"year":2013,"month":7,"date":12,"hours":1,"minutes":28,"seconds":45,"utc":true}]},"axis":{"orient":"bottom","title":null,"values":[1373546400000,1373548800000,1373551200000,1373553600000,1373556000000,1373558400000,1373560800000,1373563200000,1373565600000,1373568000000,1373570400000,1373572800000,1373575200000,1373577600000,1373580000000,1373582400000],"labelExpr":"utcFormat(datum.value, '%H:%M') == '12:40' ? '11 Jul 2013' : '11 Jul ' + utcFormat(datum.value, '%H:%M')","labelAlign":"left","labelBaseline":"top","labelFlush":false,"labelOverlap":false,"tickSize":3,"labelPadding":2}},"y":{"field":"o","type":"quantitative","scale":{"domain":[1.30026,1.31248],"range":[443,0],"zero":false,"nice":false},"axis":null},"y2":{"field":"c"},"fill":{"condition":{"test":"datum.c>=datum.o","value":"#3AAE6B"},"value":"#FF0000"}}},
{"data":{"name":"k"},"mark":{"type":"line","color":"#0000FF","strokeWidth":1},"encoding":{"x":{"field":"t","type":"temporal","title":null,"scale":{"type":"utc","domain":[{"year":2013,"month":7,"date":11,"hours":12,"minutes":40,"utc":true},{"year":2013,"month":7,"date":12,"hours":1,"minutes":28,"seconds":45,"utc":true}]}},"y":{"field":"v","type":"quantitative","scale":{"domain":[0,100],"range":[521,446],"zero":false,"nice":false},"axis":{"orient":"right","values":[0,20,80,100],"labelFlush":true,"title":null}}}},
{"data":{"name":"d"},"mark":{"type":"line","color":"#FF0000","strokeWidth":1,"strokeDash":[2,2]},"encoding":{"x":{"field":"t","type":"temporal","title":null,"scale":{"type":"utc","domain":[{"year":2013,"month":7,"date":11,"hours":12,"minutes":40,"utc":true},{"year":2013,"month":7,"date":12,"hours":1,"minutes":28,"seconds":45,"utc":true}]}},"y":{"field":"v","type":"quantitative","scale":{"domain":[0,100],"range":[521,446],"zero":false,"nice":false},"axis":null}}},
{"data":{"name":"adx"},"mark":{"type":"line","color":"#22EE88","strokeWidth":2.5},"encoding":{"x":{"field":"t","type":"temporal","title":null,"scale":{"type":"utc","domain":[{"year":2013,"month":7,"date":11,"hours":12,"minutes":40,"utc":true},{"year":2013,"month":7,"date":12,"hours":1,"minutes":28,"seconds":45,"utc":true}]}},"y":{"field":"v","type":"quantitative","scale":{"domain":[1,71],"range":[591,524],"zero":false,"nice":false},"axis":{"orient":"right","values":[1,20,40,71],"labelFlush":true,"title":null}}}},
{"data":{"name":"pdi"},"mark":{"type":"line","color":"#FF00FF","strokeWidth":2.5},"encoding":{"x":{"field":"t","type":"temporal","title":null,"scale":{"type":"utc","domain":[{"year":2013,"month":7,"date":11,"hours":12,"minutes":40,"utc":true},{"year":2013,"month":7,"date":12,"hours":1,"minutes":28,"seconds":45,"utc":true}]}},"y":{"field":"v","type":"quantitative","scale":{"domain":[1,71],"range":[591,524],"zero":false,"nice":false},"axis":null}}},
{"data":{"values":[{"t":"2013-07-12T01:42:30Z","p":1.31074,"s":"1.31074"},{"t":"2013-07-12T01:42:30Z","p":1.31,"s":"1.31000"},{"t":"2013-07-12T01:42:30Z","p":1.305,"s":"1.30500"}]},"mark":{"type":"tick","orient":"horizontal","size":42,"thickness":12,"opacity":1},"encoding":{"x":{"field":"t","type":"temporal","title":null,"scale":{"type":"utc","domain":[{"year":2013,"month":7,"date":11,"hours":12,"minutes":40,"utc":true},{"year":2013,"month":7,"date":12,"hours":1,"minutes":28,"seconds":45,"utc":true}]}},"y":{"field":"p","type":"quantitative","scale":{"domain":[1.30026,1.31248],"range":[443,0],"zero":false,"nice":false},"axis":null},"color":{"condition":[{"test":"datum.s=='1.31074'","value":"#000000"},{"test":"datum.s=='1.31000'","value":"#FF0000"}],"value":"#808080"}}},
{"data":{"values":[{"t":"2013-07-12T01:42:30Z","p":1.31074,"s":"1.31074"},{"t":"2013-07-12T01:42:30Z","p":1.31,"s":"1.31000"},{"t":"2013-07-12T01:42:30Z","p":1.305,"s":"1.30500"}]},"mark":{"type":"text","align":"center","baseline":"middle","fontSize":9.5,"color":"#FFFFFF"},"encoding":{"x":{"field":"t","type":"temporal","title":null,"scale":{"type":"utc","domain":[{"year":2013,"month":7,"date":11,"hours":12,"minutes":40,"utc":true},{"year":2013,"month":7,"date":12,"hours":1,"minutes":28,"seconds":45,"utc":true}]}},"y":{"field":"p","type":"quantitative","scale":{"domain":[1.30026,1.31248],"range":[443,0],"zero":false,"nice":false},"axis":null},"text":{"field":"s"}}}
]
}
